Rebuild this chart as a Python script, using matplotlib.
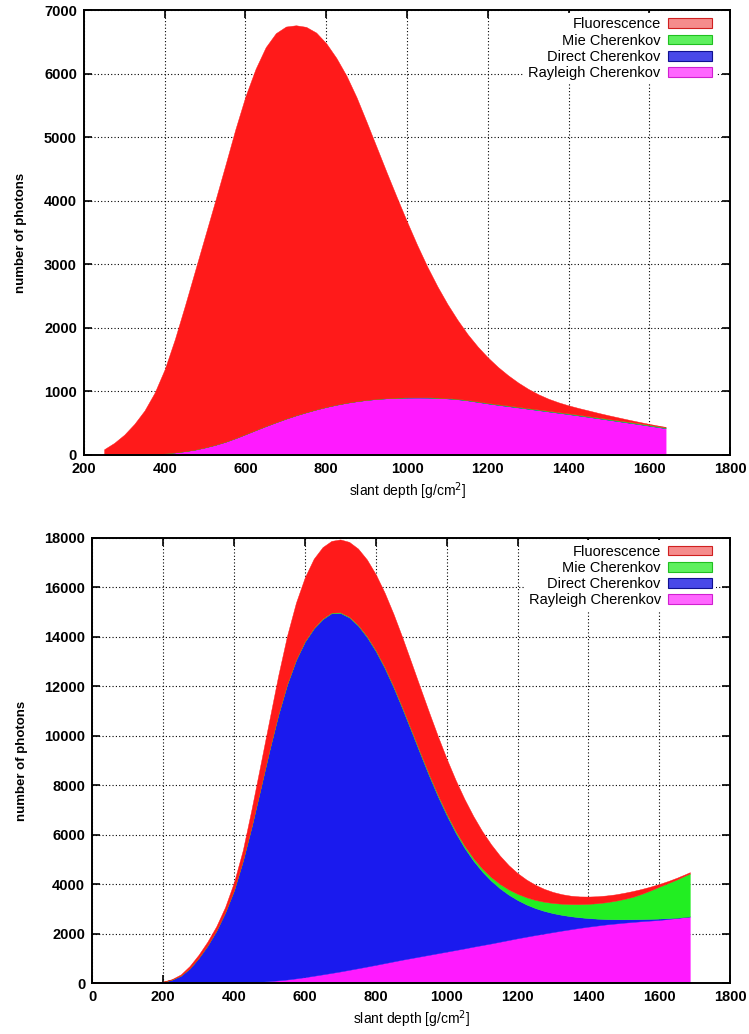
import matplotlib
matplotlib.use("Agg")
import matplotlib.pyplot as plt
from matplotlib.patches import Patch
import numpy as np

plt.rcParams['font.family'] = ['Liberation Sans', 'DejaVu Sans']

# ---- upper panel: fluorescence-dominated shower profile ----
depth_a = [250, 275, 300, 325, 350, 375, 400, 425,
           450, 475, 500, 525, 550, 575, 600, 625,
           650, 675, 700, 725, 750, 775, 800, 825,
           850, 875, 900, 925, 950, 975, 1000, 1025,
           1050, 1075, 1100, 1125, 1150, 1175, 1200, 1225,
           1250, 1275, 1300, 1325, 1350, 1375, 1400, 1425,
           1450, 1475, 1500, 1525, 1550, 1575, 1600, 1625,
           1640]
rayleigh_a = [0, 1, 2, 4, 8, 14, 25, 40,
              60, 85, 120, 160, 208, 265, 328, 392,
              455, 515, 572, 625, 673, 717, 757, 792,
              822, 847, 867, 882, 893, 900, 904, 905,
              904, 899, 891, 878, 860, 836, 812, 790,
              770, 749, 728, 707, 686, 665, 644, 622,
              600, 577, 554, 531, 508, 485, 461, 437,
              422]
direct_a = [0] * 57
mie_a = [0, 0, 0, 0, 0, 0, 0, 0,
         0, 0, 0, 0, 0, 0, 0, 0,
         0, 0, 0, 0, 0, 0, 0, 0,
         0, 0, 1, 1, 2, 2, 3, 3,
         4, 4, 5, 5, 6, 6, 7, 7,
         8, 8, 8, 9, 9, 9, 10, 10,
         10, 11, 11, 11, 12, 12, 12, 12,
         12]
fluor_a = [90, 189, 318, 486, 692, 966, 1325, 1780,
           2290, 2815, 3330, 3840, 4352, 4865, 5322, 5688,
           5965, 6125, 6173, 6140, 6067, 5933, 5723, 5458,
           5148, 4783, 4372, 3957, 3545, 3148, 2763, 2397,
           2057, 1752, 1479, 1242, 1034, 863, 716, 588,
           477, 383, 304, 239, 190, 154, 126, 106,
           89, 72, 58, 46, 33, 23, 15, 9,
           8]

# ---- lower panel: Cherenkov-dominated shower profile ----
depth_b = [0, 50, 100, 125, 150, 175, 200, 225,
           250, 275, 300, 325, 350, 375, 400, 425,
           450, 475, 500, 525, 550, 575, 600, 625,
           650, 675, 700, 725, 750, 775, 800, 825,
           850, 875, 900, 925, 950, 975, 1000, 1025,
           1050, 1075, 1100, 1125, 1150, 1175, 1200, 1225,
           1250, 1275, 1300, 1325, 1350, 1375, 1400, 1425,
           1450, 1475, 1500, 1525, 1550, 1575, 1600, 1625,
           1650, 1675, 1686]
rayleigh_b = [0, 0, 0, 0, 0, 0, 0, 0,
              0, 0, 2, 5, 9, 14, 20, 30,
              45, 65, 90, 120, 155, 200, 250, 305,
              362, 420, 480, 545, 610, 677, 745, 815,
              885, 955, 1020, 1085, 1150, 1215, 1280, 1345,
              1410, 1480, 1545, 1610, 1680, 1750, 1820, 1885,
              1950, 2010, 2070, 2130, 2185, 2240, 2290, 2335,
              2380, 2415, 2450, 2480, 2510, 2535, 2560, 2600,
              2640, 2680, 2700]
direct_b = [0, 0, 0, 1, 7, 22, 62, 150,
            310, 600, 1018, 1515, 2111, 2846, 3740, 4920,
            6305, 7815, 9330, 10730, 11925, 12860, 13550, 14025,
            14348, 14530, 14480, 14235, 13840, 13313, 12675, 11925,
            11075, 10145, 9180, 8205, 7250, 6345, 5510, 4745,
            4070, 3480, 2975, 2540, 2160, 1830, 1545, 1300,
            1090, 915, 765, 635, 525, 428, 346, 277,
            216, 173, 136, 109, 85, 69, 56, 31,
            10, 8, 0]
mie_b = [0, 0, 0, 0, 0, 0, 0, 0,
         0, 0, 0, 0, 0, 0, 0, 0,
         0, 0, 5, 10, 12, 15, 18, 20,
         22, 24, 26, 28, 30, 32, 34, 36,
         38, 40, 42, 45, 50, 55, 60, 70,
         85, 100, 120, 145, 175, 210, 250, 290,
         330, 370, 410, 450, 490, 530, 575, 625,
         680, 745, 820, 905, 1020, 1150, 1290, 1420,
         1550, 1680, 1730]
fluor_b = [0, 0, 0, 0, 1, 3, 8, 20,
           50, 100, 130, 160, 180, 220, 320, 430,
           710, 970, 1225, 1580, 1958, 2305, 2582, 2800,
           2888, 2896, 2944, 3022, 3080, 3098, 3066, 3004,
           2922, 2830, 2728, 2625, 2510, 2375, 2220, 2060,
           1885, 1700, 1510, 1325, 1145, 980, 835, 715,
           610, 520, 445, 385, 340, 312, 294, 281,
           272, 259, 249, 234, 197, 154, 109, 84,
           70, 52, 60]

labels = ["Fluorescence", "Mie Cherenkov", "Direct Cherenkov", "Rayleigh Cherenkov"]
fill_colors = {"Fluorescence": "#ff1a1a", "Mie Cherenkov": "#22ee22",
               "Direct Cherenkov": "#1a1aee", "Rayleigh Cherenkov": "#ff1aff"}
key_face = {"Fluorescence": "#f58c8c", "Mie Cherenkov": "#5ef05e",
            "Direct Cherenkov": "#4848e8", "Rayleigh Cherenkov": "#ff66ff"}
key_edge = {"Fluorescence": "#d02020", "Mie Cherenkov": "#20c020",
            "Direct Cherenkov": "#101090", "Rayleigh Cherenkov": "#d020d0"}

fig = plt.figure(figsize=(7.49, 10.34), dpi=100)
ax1 = fig.add_axes([0.112, 0.560, 0.863, 0.430])
ax2 = fig.add_axes([0.123, 0.049, 0.852, 0.431])


def draw(ax, depth, rayleigh, direct, mie, fluor, xlim, ylim, yticks):
    ax.set_axisbelow(True)
    # stacked from the bottom: Rayleigh, Direct, Mie, Fluorescence
    ax.stackplot(depth, rayleigh, direct, mie, fluor,
                 colors=[fill_colors["Rayleigh Cherenkov"], fill_colors["Direct Cherenkov"],
                         fill_colors["Mie Cherenkov"], fill_colors["Fluorescence"]],
                 linewidth=0.3, edgecolor="face")
    ax.set_xlim(*xlim)
    ax.set_ylim(*ylim)
    ax.set_xticks(np.arange(xlim[0], xlim[1] + 1, 200))
    ax.set_yticks(yticks)
    ax.grid(True, color="black", linestyle=(0, (1, 2)), linewidth=0.8)
    ax.tick_params(direction="in", length=6, width=1.2, top=True, right=True,
                   labelsize=10.5, pad=5)
    for lab in ax.get_xticklabels() + ax.get_yticklabels():
        lab.set_fontweight("bold")
    for sp in ax.spines.values():
        sp.set_linewidth(1.4)
    ax.set_xlabel("slant depth [g/cm$^2$]", fontsize=10, labelpad=3)
    ax.set_ylabel("number of photons", fontsize=9.5, fontweight="bold", labelpad=12)
    handles = [Patch(facecolor=key_face[l], edgecolor=key_edge[l], linewidth=0.8)
               for l in labels]
    leg = ax.legend(handles, labels, loc="upper right", markerfirst=False,
                    bbox_to_anchor=(0.978, 0.994), borderaxespad=0.0,
                    frameon=True, fancybox=False, framealpha=1.0,
                    edgecolor="none", facecolor="white",
                    fontsize=10.5, handlelength=3.0, handleheight=0.65,
                    labelspacing=0.15, handletextpad=0.5, borderpad=0.3)
    for t in leg.get_texts():
        t.set_ha("right")


draw(ax1, depth_a, rayleigh_a, direct_a, mie_a, fluor_a,
     (200, 1800), (0, 7000), np.arange(0, 7001, 1000))
draw(ax2, depth_b, rayleigh_b, direct_b, mie_b, fluor_b,
     (0, 1800), (0, 18000), np.arange(0, 18001, 2000))

fig.savefig("out.png", dpi=100)
